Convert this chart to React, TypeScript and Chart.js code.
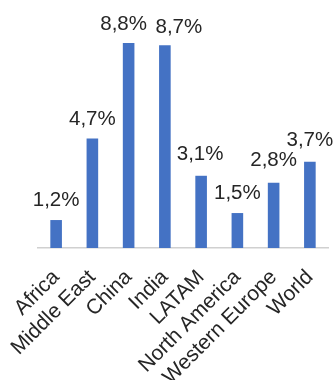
import React, { useEffect, useRef } from "react";
import { Chart, registerables } from "chart.js";

Chart.register(...registerables);

const categories = ["Africa", "Middle East", "China", "India", "LATAM", "North America", "Western Europe", "World"];
const values = [1.2, 4.7, 8.8, 8.7, 3.1, 1.5, 2.8, 3.7];
const valueLabels = ["1,2%", "4,7%", "8,8%", "8,7%", "3,1%", "1,5%", "2,8%", "3,7%"];

const FONT = "'Liberation Sans', Arial, sans-serif";

// label nudges (px) used to avoid overlaps, as in the source chart
const labelDx = [0, 0, -5, 14, -1, 0, 0, 0];
const labelGap = [14, 13.5, 13, 12.5, 15.5, 14, 16.5, 16];

const labelPlugin = {
  id: "valueLabels",
  afterDatasetsDraw(chart: any) {
    const ctx = chart.ctx;
    const meta = chart.getDatasetMeta(0);
    ctx.save();
    ctx.font = `20.5px ${FONT}`;
    ctx.fillStyle = "#262626";
    ctx.textAlign = "center";
    ctx.textBaseline = "alphabetic";
    meta.data.forEach((bar: any, i: number) => {
      ctx.fillText(valueLabels[i], bar.x + labelDx[i], bar.y - labelGap[i]);
    });
    ctx.restore();
  },
};

export default function App() {
  const ref = useRef<HTMLCanvasElement>(null);
  useEffect(() => {
    document.body.style.margin = "0";
    const chart = new Chart(ref.current!, {
      type: "bar",
      data: {
        labels: categories,
        datasets: [
          {
            data: values,
            backgroundColor: "#4472C4",
            barPercentage: 0.32,
            categoryPercentage: 1,
          },
        ],
      },
      options: {
        animation: false,
        responsive: false,
        layout: { padding: { top: 15, left: 38, right: 6, bottom: 0 } },
        plugins: { legend: { display: false }, tooltip: { enabled: false } },
        scales: {
          x: {
            grid: { display: false },
            border: { display: true, color: "#d0d0d0", width: 1.5 },
            ticks: {
              minRotation: 45,
              maxRotation: 45,
              autoSkip: false,
              color: "#262626",
              font: { family: FONT, size: 21 },
              padding: 9,
            },
            afterFit(scale: any) {
              scale.height = 132;
              scale.paddingLeft = 0;
              scale.paddingRight = 0;
            },
          },
          y: { display: false, min: 0, max: 10 },
        },
      },
      plugins: [labelPlugin],
    });
    return () => chart.destroy();
  }, []);
  return (
    <div style={{ width: 334, height: 380 }}>
      <canvas ref={ref} width={334} height={380} />
    </div>
  );
}
